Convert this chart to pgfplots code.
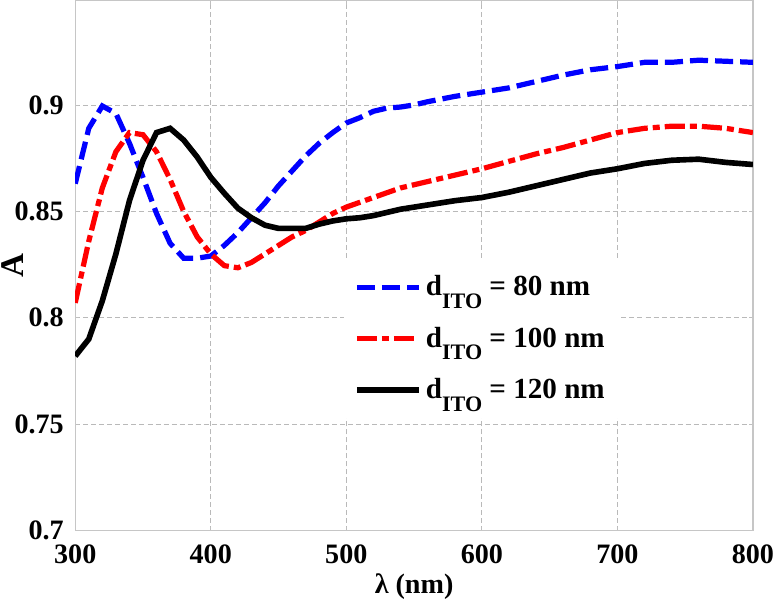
\documentclass[border=0pt]{standalone}
\usepackage{fontspec}
\setmainfont{Liberation Serif}
\usepackage{pgfplots}
\pgfplotsset{compat=1.18}
\newcommand{\dito}{d\raisebox{-6.3pt}{\fontsize{11}{12}\selectfont ITO}}
\begin{document}
\begin{tikzpicture}
\begin{axis}[
  scale only axis, width=337.5pt, height=264pt,
  xmin=300, xmax=800, ymin=0.7, ymax=0.949,
  xtick={300,400,500,600,700,800},
  ytick={0.7,0.75,0.8,0.85,0.9},
  yticklabels={0.7,0.75,0.8,0.85,0.9},
  /pgf/number format/assume math mode=true,
  tick label style={font=\fontsize{14}{16}\selectfont\bfseries, inner sep=0pt},
  xticklabel style={anchor=base, yshift=-16.5pt},
  yticklabel style={anchor=east, xshift=-5.5pt},
  major tick length=2pt,
  tick style={draw=gray!50, line width=0.4pt},
  axis line style={draw=gray!45, line width=0.6pt},
  grid=major,
  major grid style={dash pattern=on 2.5pt off 1.5pt, draw=gray!55, line width=0.4pt},
  xlabel={λ (nm)},
  ylabel={A},
  every axis x label/.style={at={(rel axis cs:0.5,0)}, anchor=base, yshift=-31.5pt,
     inner sep=0pt, font=\fontsize{14}{16}\selectfont\bfseries},
  every axis y label/.style={at={(rel axis cs:-0.0919,0.5)}, anchor=center, rotate=90,
     inner sep=1pt, font=\fontsize{16.5}{18}\selectfont\bfseries},
  legend style={at={(rel axis cs:0.396,0.512)}, anchor=north west, draw=none, fill=white,
    font=\fontsize{14.5}{16}\selectfont\bfseries, row sep=10pt, inner xsep=5pt, inner ysep=6pt},
  legend cell align=left,
  legend image code/.code={\draw[#1] plot coordinates {(0pt,0pt) (31pt,0pt)};},
]
\addplot[blue, line width=2.6pt, dash pattern=on 9pt off 3.5pt] coordinates {
(300,0.863) (310,0.889) (320,0.8995) (330,0.896) (340,0.882) (350,0.866) (360,0.849)
(370,0.835) (380,0.828) (390,0.828) (400,0.829) (410,0.834) (420,0.840) (430,0.847)
(440,0.854) (450,0.862) (460,0.869) (470,0.876) (480,0.882) (490,0.887) (500,0.8915)
(510,0.894) (520,0.897) (530,0.8985) (540,0.899) (550,0.900) (560,0.9015) (580,0.904)
(600,0.906) (620,0.908) (640,0.911) (660,0.914) (680,0.9165) (700,0.918) (720,0.920)
(740,0.920) (760,0.921) (780,0.9205) (800,0.920)};
\addlegendentry{\dito{} = 80 nm}
\addplot[red, line width=2.6pt, dash pattern=on 10pt off 2.5pt on 3.5pt off 2.5pt] coordinates {
(300,0.807) (310,0.836) (320,0.861) (330,0.878) (340,0.887) (350,0.886) (360,0.878)
(370,0.865) (380,0.850) (390,0.838) (400,0.830) (410,0.8245) (420,0.8235) (430,0.826)
(440,0.830) (450,0.834) (460,0.838) (470,0.841) (480,0.845) (490,0.849) (500,0.852)
(520,0.8565) (540,0.861) (560,0.864) (580,0.867) (600,0.870) (620,0.8735) (640,0.877)
(660,0.880) (680,0.8835) (700,0.887) (720,0.889) (740,0.890) (760,0.890) (780,0.889)
(800,0.887)};
\addlegendentry{\dito{} = 100 nm}
\addplot[black, line width=2.8pt] coordinates {
(300,0.782) (310,0.790) (320,0.808) (330,0.830) (340,0.855) (350,0.874) (360,0.887)
(370,0.889) (380,0.8835) (390,0.8755) (400,0.866) (410,0.8585) (420,0.8515) (430,0.847)
(440,0.8435) (450,0.842) (460,0.842) (470,0.842) (480,0.844) (490,0.8455) (500,0.8465)
(510,0.847) (520,0.848) (540,0.851) (560,0.853) (580,0.855) (600,0.8565) (620,0.859)
(640,0.862) (660,0.865) (680,0.868) (700,0.870) (720,0.8725) (740,0.874) (760,0.8745)
(780,0.873) (800,0.872)};
\addlegendentry{\dito{} = 120 nm}
\end{axis}
\end{tikzpicture}
\end{document}
